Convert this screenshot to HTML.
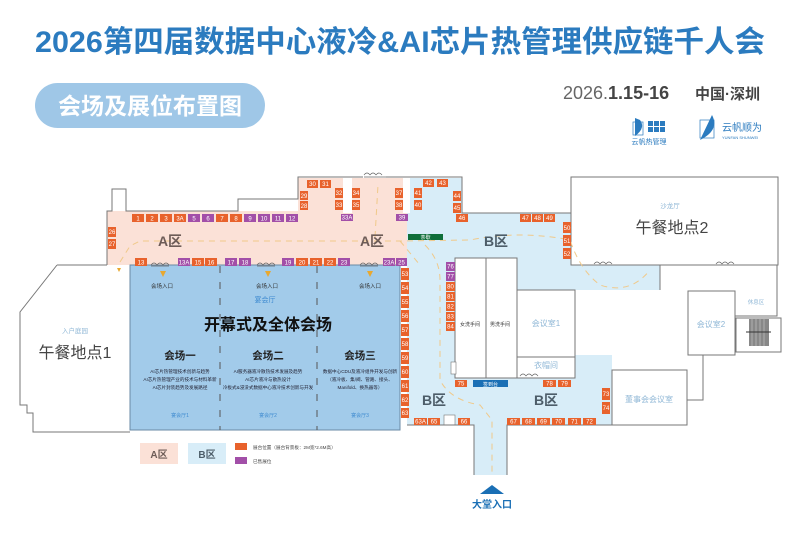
<!DOCTYPE html>
<html><head><meta charset="utf-8">
<style>
html,body{margin:0;padding:0;background:#fff;}
svg{display:block;font-family:"Liberation Sans","Noto Sans CJK SC",sans-serif;}
.b{font-size:6px;fill:#fff;text-anchor:middle;}
</style></head><body>
<svg width="800" height="534" viewBox="0 0 800 534" xmlns="http://www.w3.org/2000/svg">
<!-- Title -->
<text x="400" y="52" font-size="30" font-weight="bold" fill="#2b7bbf" text-anchor="middle" textLength="730" lengthAdjust="spacingAndGlyphs">2026第四届数据中心液冷&amp;AI芯片热管理供应链千人会</text>
<rect x="35" y="83" width="230" height="45" rx="22.5" fill="#9fc7e7"/>
<text x="150" y="114" font-size="23" font-weight="bold" fill="#fff" text-anchor="middle">会场及展位布置图</text>
<text x="563" y="99" font-size="18" fill="#666">2026.<tspan font-weight="bold" fill="#444">1.15-16</tspan></text>
<text x="695" y="99" font-size="15" font-weight="bold" fill="#444">中国·深圳</text>
<!-- logos -->
<path d="M635 118 L640 120 Q646 128 635 136 Z" fill="#2b7bbf"/>
<rect x="633" y="122" width="10" height="13" fill="none" stroke="#2b7bbf" stroke-width="0.7"/>
<g fill="#2b7bbf"><rect x="648" y="121" width="5" height="5"/><rect x="654" y="121" width="5" height="5"/><rect x="660" y="121" width="5" height="5"/><rect x="648" y="127" width="5" height="5"/><rect x="654" y="127" width="5" height="5"/><rect x="660" y="127" width="5" height="5"/></g>
<text x="649" y="144" font-size="7" fill="#2b7bbf" text-anchor="middle">云帆热管理</text>
<rect x="700" y="120" width="14" height="18" fill="none" stroke="#2b7bbf" stroke-width="0.7"/>
<path d="M712 115 Q720 130 700 140 Z" fill="#2b7bbf"/>
<text x="722" y="131" font-size="10" fill="#2b7bbf">云帆顺为</text>
<text x="722" y="139" font-size="4" fill="#2b7bbf">YUNFAN SHUNWEI</text>

<!-- B zone blue -->
<g fill="#d8edf8">
<rect x="407" y="178" width="55" height="35"/>
<rect x="407" y="213" width="164" height="77"/>
<rect x="571" y="265" width="89" height="25"/>
<rect x="407" y="290" width="168" height="135"/>
<rect x="575" y="355" width="37" height="70"/>
<rect x="474" y="425" width="33" height="50"/>
</g>
<!-- A zone pink -->
<g fill="#fbe1d7">
<rect x="107" y="211" width="300" height="54"/>
<rect x="298" y="178" width="109" height="35"/>
</g>
<rect x="343" y="178" width="9" height="35" fill="#fff"/>
<rect x="403" y="178" width="7" height="35" fill="#fff"/>
<!-- white rooms in B -->
<rect x="455" y="258" width="62" height="120" fill="#fff" stroke="#777" stroke-width="1"/>
<line x1="486" y1="258" x2="486" y2="378" stroke="#777"/>
<text x="470" y="326" font-size="5" fill="#333" text-anchor="middle">女洗手间</text>
<text x="500" y="326" font-size="5" fill="#333" text-anchor="middle">男洗手间</text>
<rect x="517" y="290" width="58" height="67" fill="#fff" stroke="#777"/>
<text x="546" y="326" font-size="8" fill="#8fb7d6" text-anchor="middle">会议室1</text>
<rect x="517" y="357" width="58" height="21" fill="#fff" stroke="#777"/>
<text x="546" y="368" font-size="8" fill="#8fb7d6" text-anchor="middle">衣帽间</text>
<rect x="451" y="362" width="5" height="12" fill="#fff" stroke="#777" stroke-width="0.6"/>
<rect x="444" y="415" width="11" height="10" fill="#fff" stroke="#777" stroke-width="0.6"/>

<!-- outlines -->
<g fill="none" stroke="#777" stroke-width="1">
<path d="M107 265 L107 211 L112 211 L112 189 L126 189 L126 211 L238 211 L238 199 L298 199 L298 177 L363 177 M386 177 L462 177 L462 213 L571 213"/>
<path d="M57 265 L107 265 M57 265 L20 312 L20 405 L27 405 L27 413 L33 413 L33 432 L130 432"/>
<rect x="571" y="177" width="207" height="88"/>
<path d="M660 265 L660 290"/>
<rect x="688" y="291" width="47" height="64"/>
<path d="M735 316 L777 316 L777 265"/>
<rect x="736" y="318" width="45" height="34"/>
<path d="M703 355 L703 400 L687 400"/>
<rect x="612" y="370" width="75" height="55"/>
<path d="M407 425 L474 425 L474 475 M507 475 L507 425 L612 425"/>
</g>
<g fill="#888"><rect x="749" y="319" width="20" height="27"/></g>
<g stroke="#ccc" stroke-width="0.6"><line x1="752" y1="319" x2="752" y2="346"/><line x1="756" y1="319" x2="756" y2="346"/><line x1="760" y1="319" x2="760" y2="346"/><line x1="764" y1="319" x2="764" y2="346"/></g>
<line x1="746" y1="332" x2="771" y2="332" stroke="#333"/>
<text x="756" y="304" font-size="5.5" fill="#8fb7d6" text-anchor="middle">休息区</text>
<text x="711" y="327" font-size="8" fill="#8fb7d6" text-anchor="middle">会议室2</text>
<text x="649" y="402" font-size="8" fill="#8fb7d6" text-anchor="middle">董事会会议室</text>
<text x="670" y="208" font-size="6.5" fill="#8fb7d6" text-anchor="middle">沙龙厅</text>
<text x="672" y="233" font-size="16" fill="#444" text-anchor="middle">午餐地点2</text>
<text x="75" y="333" font-size="6.5" fill="#8fb7d6" text-anchor="middle">入户庭园</text>
<text x="75" y="358" font-size="16" fill="#444" text-anchor="middle">午餐地点1</text>

<!-- main hall -->
<rect x="130" y="265" width="270" height="165" fill="#a2cbea" stroke="#6a8aa4" stroke-width="1"/>
<g stroke="#555" stroke-width="1" stroke-dasharray="7,9"><line x1="220" y1="266" x2="220" y2="430"/><line x1="317" y1="266" x2="317" y2="430"/></g>
<g font-size="5.5" fill="#333" text-anchor="middle"><text x="162" y="288">会场入口</text><text x="267" y="288">会场入口</text><text x="370" y="288">会场入口</text></g>
<g fill="#e8a830"><path d="M160 271 l3 6 l3 -6z"/><path d="M265 271 l3 6 l3 -6z"/><path d="M367 271 l3 6 l3 -6z"/><path d="M117 268 l2 4 l2 -4z"/></g>
<text x="265" y="302" font-size="7" fill="#3d8ad0" text-anchor="middle">宴会厅</text>
<text x="268" y="330" font-size="16" font-weight="bold" fill="#111" text-anchor="middle">开幕式及全体会场</text>
<g font-size="10.5" font-weight="bold" fill="#222" text-anchor="middle"><text x="180" y="359">会场一</text><text x="268" y="359">会场二</text><text x="360" y="359">会场三</text></g>
<g font-size="4.6" fill="#223" text-anchor="middle">
<text x="180" y="373">AI芯片热管理技术创新与趋势</text><text x="180" y="381">AI芯片热管理产业的技术与材料革新</text><text x="180" y="389">AI芯片封装趋势及发展路径</text>
<text x="268" y="373">AI服务器液冷散热技术发展及趋势</text><text x="268" y="381">AI芯片液冷与散热设计</text><text x="268" y="389">冷板式&amp;浸没式数据中心液冷技术创新与开发</text>
<text x="360" y="373">数据中心CDU及液冷组件开发与创新</text><text x="360" y="381">（液冷板、集/阀、管路、接头、</text><text x="360" y="389">Manifold、换热器等）</text>
</g>
<g font-size="5" fill="#3d8ad0" text-anchor="middle"><text x="180" y="417">宴会厅1</text><text x="268" y="417">宴会厅2</text><text x="360" y="417">宴会厅3</text></g>

<!-- dashed paths -->
<g fill="none" stroke="#f0c98a" stroke-width="1" stroke-dasharray="6,5">
<path d="M120 262 L130 246 L140 241 L400 241 L470 240 Q520 230 570 240 Q580 270 600 285 Q630 295 650 270"/>
<path d="M375 237 L378 185"/>
<path d="M425 245 Q440 260 440 280 L440 380 Q450 400 480 405 L492 420 L492 475"/>
<path d="M400 241 L420 265"/>
</g>
<!-- zone labels -->
<g font-size="14" font-weight="bold" text-anchor="middle"><text x="170" y="246" fill="#6d5c57">A区</text><text x="372" y="246" fill="#6d5c57">A区</text>
<text x="496" y="246" fill="#4d5d69">B区</text><text x="434" y="405" fill="#4d5d69">B区</text><text x="546" y="405" fill="#4d5d69">B区</text></g>
<rect x="408" y="234" width="35" height="6" fill="#0f6e3a"/><text x="425.5" y="239" font-size="5" fill="#fff" text-anchor="middle">茶歇</text>
<rect x="473" y="380" width="35" height="7" fill="#1a6fb5"/><text x="490.5" y="386" font-size="5" fill="#fff" text-anchor="middle">签到台</text>

<!-- doors -->
<g fill="none" stroke="#666" stroke-width="0.7">
<path d="M364 175 q3 -4 6 0 M370 175 q3 -4 6 0 M376 175 q3 -4 6 0 M364 177 h22"/>
<path d="M151 265 q3 -4 6 0 M157 265 q3 -4 6 0 M163 265 q3 -4 6 0 M151 266 h18"/>
<path d="M257 265 q3 -4 6 0 M263 265 q3 -4 6 0 M269 265 q3 -4 6 0 M257 266 h18"/>
<path d="M360 265 q3 -4 6 0 M366 265 q3 -4 6 0 M372 265 q3 -4 6 0 M360 266 h18"/>
<path d="M594 264 q3 -4 6 0 M600 264 q3 -4 6 0 M606 264 q3 -4 6 0"/>
<path d="M716 264 q3 -4 6 0 M722 264 q3 -4 6 0 M728 264 q3 -4 6 0"/>
<path d="M520 376 q3 -4 6 0 M526 376 q3 -4 6 0 M532 376 q3 -4 6 0"/>
</g>

<!-- booths -->
<g>
<g fill="#e8622c"><rect x="132" y="214" width="12" height="8"/><rect x="146" y="214" width="12" height="8"/><rect x="160" y="214" width="12" height="8"/><rect x="174" y="214" width="12" height="8"/><rect x="216" y="214" width="12" height="8"/><rect x="230" y="214" width="12" height="8"/></g>
<g fill="#a24fa8"><rect x="188" y="214" width="12" height="8"/><rect x="202" y="214" width="12" height="8"/><rect x="244" y="214" width="12" height="8"/><rect x="258" y="214" width="12" height="8"/><rect x="272" y="214" width="12" height="8"/><rect x="286" y="214" width="12" height="8"/></g>
<g class="b"><text x="138" y="220.5">1</text><text x="152" y="220.5">2</text><text x="166" y="220.5">3</text><text x="180" y="220.5">3A</text><text x="194" y="220.5">5</text><text x="208" y="220.5">6</text><text x="222" y="220.5">7</text><text x="236" y="220.5">8</text><text x="250" y="220.5">9</text><text x="264" y="220.5">10</text><text x="278" y="220.5">11</text><text x="292" y="220.5">12</text></g>
<g fill="#e8622c"><rect x="135" y="258" width="12" height="8"/><rect x="192" y="258" width="12" height="8"/><rect x="205" y="258" width="12" height="8"/><rect x="296" y="258" width="12" height="8"/><rect x="310" y="258" width="12" height="8"/><rect x="324" y="258" width="12" height="8"/></g>
<g fill="#a24fa8"><rect x="178" y="258" width="12" height="8"/><rect x="225" y="258" width="12" height="8"/><rect x="239" y="258" width="12" height="8"/><rect x="282" y="258" width="12" height="8"/><rect x="338" y="258" width="12" height="8"/><rect x="383" y="258" width="12" height="8"/><rect x="396" y="258" width="11" height="8"/></g>
<g class="b"><text x="141" y="264.5">13</text><text x="184" y="264.5">13A</text><text x="198" y="264.5">15</text><text x="211" y="264.5">16</text><text x="231" y="264.5">17</text><text x="245" y="264.5">18</text><text x="288" y="264.5">19</text><text x="302" y="264.5">20</text><text x="316" y="264.5">21</text><text x="330" y="264.5">22</text><text x="344" y="264.5">23</text><text x="389" y="264.5">23A</text><text x="401.5" y="264.5">25</text></g>
<g fill="#e8622c">
<rect x="108" y="227" width="8" height="10"/><rect x="108" y="239" width="8" height="10"/>
<rect x="300" y="191" width="8" height="9"/><rect x="300" y="201" width="8" height="9"/>
<rect x="307" y="180" width="11" height="8"/><rect x="320" y="180" width="11" height="8"/>
<rect x="335" y="188" width="8" height="10"/><rect x="335" y="200" width="8" height="10"/>
<rect x="352" y="188" width="8" height="10"/><rect x="352" y="200" width="8" height="10"/>
<rect x="395" y="188" width="8" height="10"/><rect x="395" y="200" width="8" height="10"/>
<rect x="414" y="188" width="8" height="10"/><rect x="414" y="200" width="8" height="10"/>
<rect x="423" y="179" width="11" height="8"/><rect x="437" y="179" width="11" height="8"/>
<rect x="453" y="191" width="8" height="10"/><rect x="453" y="203" width="8" height="10"/>
<rect x="456" y="214" width="12" height="8"/>
<rect x="520" y="214" width="11" height="8"/><rect x="532" y="214" width="11" height="8"/><rect x="544" y="214" width="11" height="8"/>
<rect x="563" y="222" width="8" height="11"/><rect x="563" y="235" width="8" height="11"/><rect x="563" y="248" width="8" height="11"/>
</g>
<g fill="#a24fa8"><rect x="341" y="214" width="12" height="7"/><rect x="396" y="214" width="12" height="7"/><rect x="446" y="262" width="9" height="9"/><rect x="446" y="272" width="9" height="9"/></g>
<g fill="#e8622c">
<rect x="446" y="282" width="9" height="9"/><rect x="446" y="292" width="9" height="9"/><rect x="446" y="302" width="9" height="9"/><rect x="446" y="312" width="9" height="9"/><rect x="446" y="322" width="9" height="9"/>
<rect x="401" y="268" width="8" height="12"/><rect x="401" y="282" width="8" height="12"/><rect x="401" y="296" width="8" height="12"/><rect x="401" y="310" width="8" height="12"/><rect x="401" y="324" width="8" height="12"/><rect x="401" y="338" width="8" height="12"/><rect x="401" y="352" width="8" height="12"/><rect x="401" y="366" width="8" height="12"/><rect x="401" y="380" width="8" height="12"/><rect x="401" y="394" width="8" height="12"/><rect x="401" y="408" width="8" height="10"/>
<rect x="414" y="418" width="13" height="7"/><rect x="428" y="418" width="12" height="7"/><rect x="458" y="418" width="12" height="7"/>
<rect x="507" y="418" width="13" height="7"/><rect x="522" y="418" width="13" height="7"/><rect x="537" y="418" width="13" height="7"/><rect x="552" y="418" width="13" height="7"/><rect x="568" y="418" width="13" height="7"/><rect x="583" y="418" width="13" height="7"/>
<rect x="602" y="388" width="8" height="12"/><rect x="602" y="402" width="8" height="12"/>
<rect x="455" y="380" width="12" height="7"/><rect x="543" y="380" width="13" height="7"/><rect x="558" y="380" width="13" height="7"/>
</g>
<g class="b" font-size="5">
<text x="112" y="234">26</text><text x="112" y="246">27</text><text x="304" y="198">29</text><text x="304" y="208">28</text>
<text x="312.5" y="186">30</text><text x="325.5" y="186">31</text><text x="339" y="195">32</text><text x="339" y="207">33</text>
<text x="356" y="195">34</text><text x="356" y="207">35</text><text x="399" y="195">37</text><text x="399" y="207">38</text>
<text x="418" y="195">41</text><text x="418" y="207">40</text><text x="428.5" y="185">42</text><text x="442.5" y="185">43</text>
<text x="457" y="198">44</text><text x="457" y="210">45</text><text x="462" y="220">46</text>
<text x="525.5" y="220">47</text><text x="537.5" y="220">48</text><text x="549.5" y="220">49</text>
<text x="567" y="230">50</text><text x="567" y="243">51</text><text x="567" y="256">52</text>
<text x="347" y="219.5">33A</text><text x="402" y="219.5">39</text>
<text x="420.5" y="423.5">63A</text><text x="434" y="423.5">65</text><text x="464" y="423.5">66</text>
<text x="513.5" y="423.5">67</text><text x="528.5" y="423.5">68</text><text x="543.5" y="423.5">69</text><text x="558.5" y="423.5">70</text><text x="574.5" y="423.5">71</text><text x="589.5" y="423.5">72</text>
<text x="461" y="385.5">75</text><text x="549.5" y="385.5">78</text><text x="564.5" y="385.5">79</text>
<text x="606" y="396">73</text><text x="606" y="410">74</text>
</g>
<g class="b" font-size="4.5">
<text x="405" y="276">53</text><text x="405" y="290">54</text><text x="405" y="304">55</text><text x="405" y="318">56</text><text x="405" y="332">57</text><text x="405" y="346">58</text><text x="405" y="360">59</text><text x="405" y="374">60</text><text x="405" y="388">61</text><text x="405" y="402">62</text><text x="405" y="415">63</text>
<text x="450.5" y="268.5">76</text><text x="450.5" y="278.5">77</text><text x="450.5" y="288.5">80</text><text x="450.5" y="298.5">81</text><text x="450.5" y="308.5">82</text><text x="450.5" y="318.5">83</text><text x="450.5" y="328.5">84</text>
</g>
</g>

<!-- legend -->
<rect x="140" y="443" width="38" height="21" fill="#fbe1d7"/><text x="159" y="458" font-size="10" font-weight="bold" fill="#6d5c57" text-anchor="middle">A区</text>
<rect x="188" y="443" width="38" height="21" fill="#d8edf8"/><text x="207" y="458" font-size="10" font-weight="bold" fill="#4d5d69" text-anchor="middle">B区</text>
<rect x="235" y="443" width="12" height="7" fill="#e8622c"/><text x="253" y="449" font-size="4.6" fill="#444">展台位置（展台背景板：2M宽*2.6M高）</text>
<rect x="235" y="457" width="12" height="7" fill="#a24fa8"/><text x="253" y="463" font-size="4.6" fill="#444">已售展位</text>
<path d="M480 494 L492 485 L504 494 Z" fill="#1a6fb5"/>
<text x="492" y="508" font-size="10" font-weight="bold" fill="#1a6fb5" text-anchor="middle">大堂入口</text>
</svg>
</body></html>
